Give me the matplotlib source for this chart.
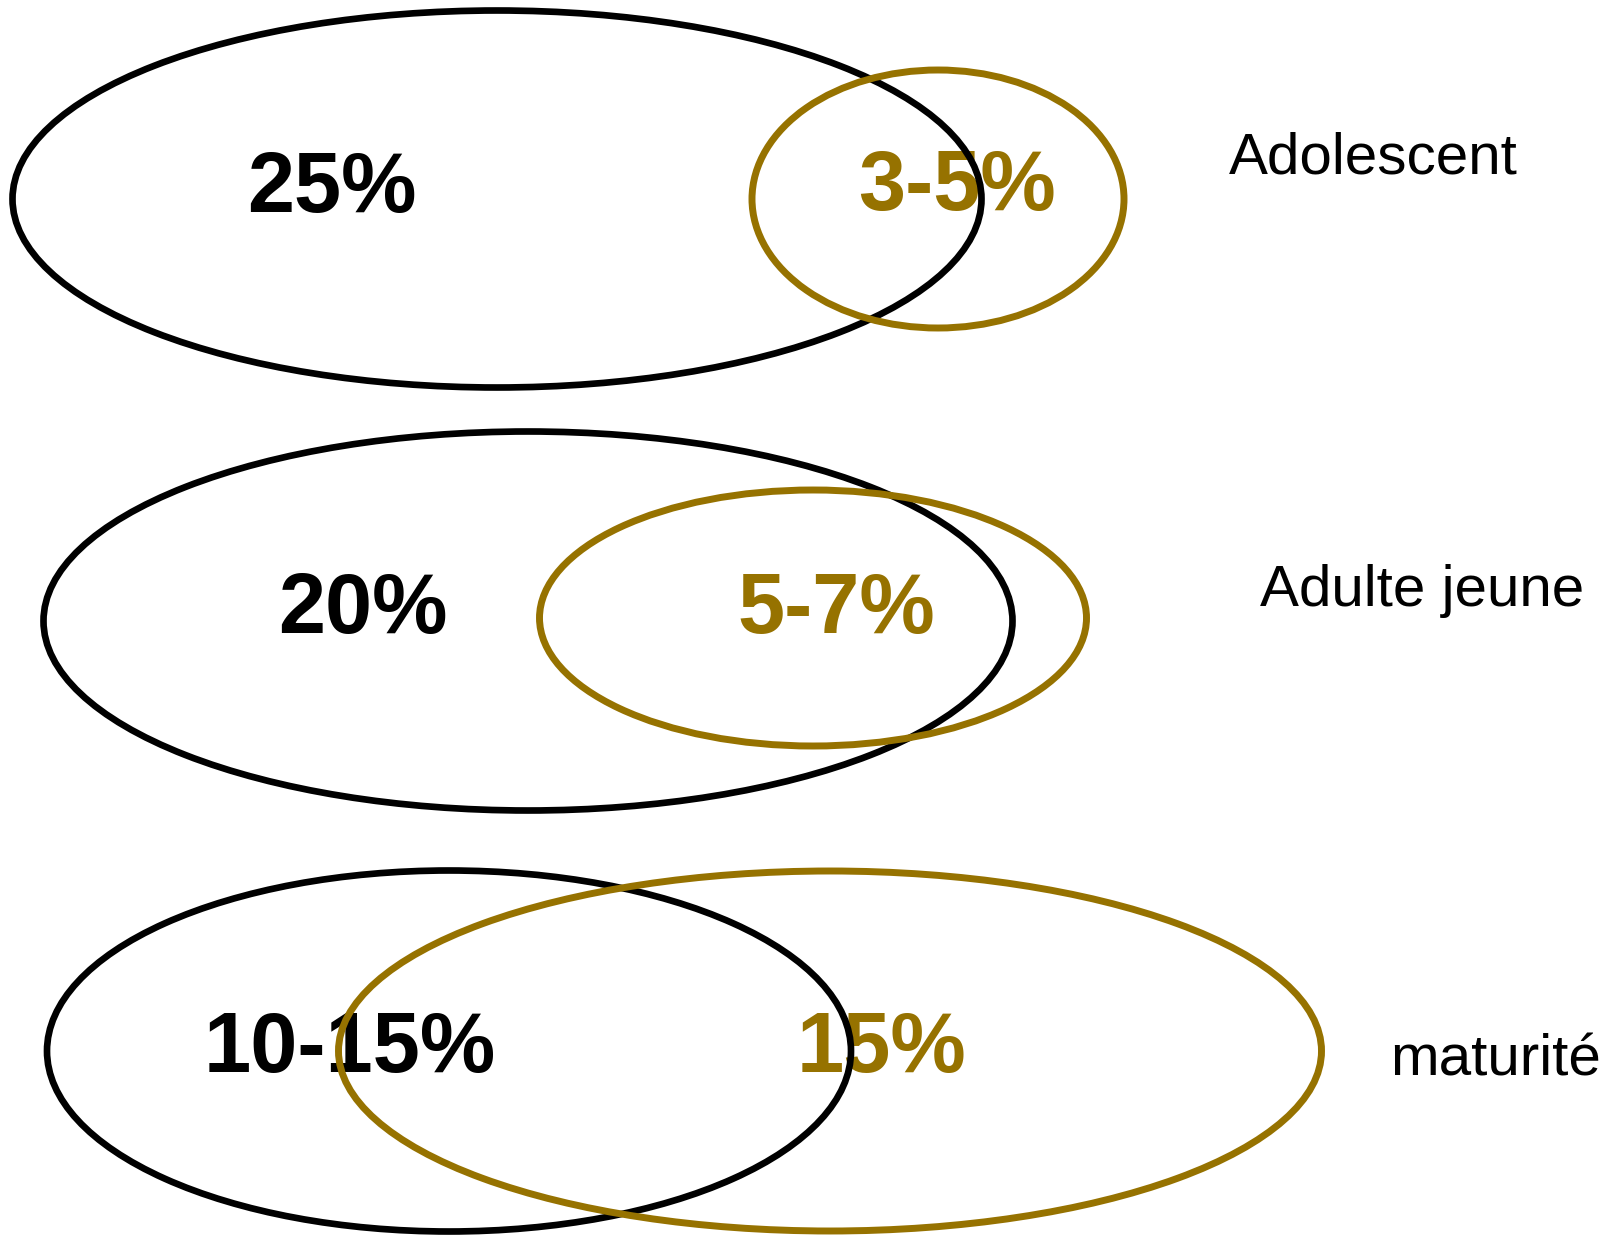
import matplotlib.pyplot as plt
from matplotlib.patches import Ellipse

# canvas in pixels (y downwards)
W, H = 1620, 1236

stages = ["Adolescent", "Adulte jeune", "maturité"]
black_labels = ["25%", "20%", "10-15%"]
gold_labels = ["3-5%", "5-7%", "15%"]

# ellipse geometry: (cx, cy, width, height)
black_ellipses = [(497, 199, 969, 377), (528, 621, 969, 379), (449, 1051, 804, 361)]
gold_ellipses = [(938, 199, 372, 258), (813, 618, 547, 256), (830, 1051, 983, 360)]

# label anchors: (x center, baseline y)
black_pos = [(332, 212), (363, 633), (350, 1072)]
gold_pos = [(957, 210), (836, 633), (881, 1072)]
stage_pos = [(1373, 173), (1422, 606), (1496, 1075)]

GOLD = "#967200"

fig = plt.figure(figsize=(W / 100, H / 100), dpi=100)
ax = fig.add_axes([0, 0, 1, 1])
ax.set_xlim(0, W)
ax.set_ylim(H, 0)
ax.axis("off")

# outlines go above the labels, as in the original
for (cx, cy, w, h) in black_ellipses:
    ax.add_patch(Ellipse((cx, cy), w, h, fill=False, edgecolor="black",
                         linewidth=4.8, zorder=5))
for (cx, cy, w, h) in gold_ellipses:
    ax.add_patch(Ellipse((cx, cy), w, h, fill=False, edgecolor=GOLD,
                         linewidth=5.0, zorder=6))

font = "Liberation Sans"
for lab, (x, y) in zip(black_labels, black_pos):
    ax.text(x, y, lab, ha="center", va="baseline", fontsize=61,
            fontweight="bold", family=font, color="black", zorder=2)
for lab, (x, y) in zip(gold_labels, gold_pos):
    ax.text(x, y, lab, ha="center", va="baseline", fontsize=61,
            fontweight="bold", family=font, color=GOLD, zorder=2)
for lab, (x, y) in zip(stages, stage_pos):
    ax.text(x, y, lab, ha="center", va="baseline", fontsize=42,
            family=font, color="black")

fig.savefig("out.png", dpi=100, facecolor="white")
